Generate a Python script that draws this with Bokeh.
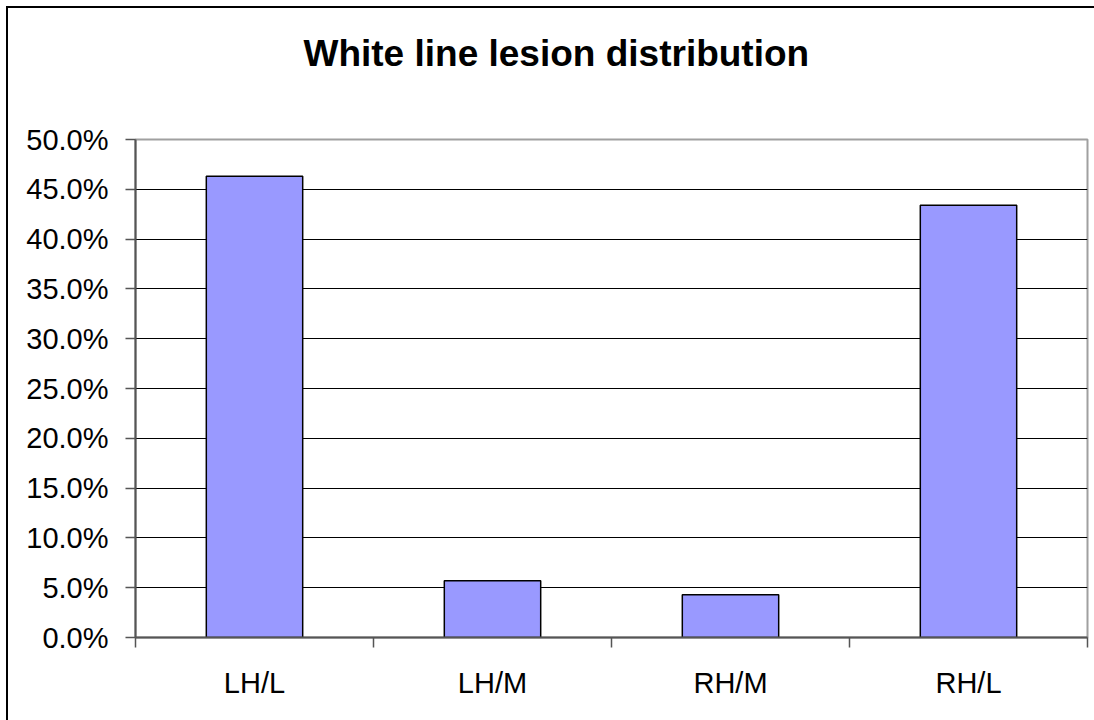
from bokeh.plotting import figure
from bokeh.models import (FixedTicker, NumeralTickFormatter, ColumnDataSource,
                          Title, InlineStyleSheet)
from bokeh.embed import file_html
from bokeh.resources import INLINE

# Share of white line lesions by claw location
categories = ["LH/L", "LH/M", "RH/M", "RH/L"]
shares = [0.463, 0.057, 0.043, 0.434]
y_ticks = [0.0, 0.05, 0.10, 0.15, 0.20, 0.25, 0.30, 0.35, 0.40, 0.45, 0.50]

FONT = "Liberation Sans"

positions = [i + 0.5 for i in range(len(categories))]
source = ColumnDataSource(data=dict(x=positions, share=shares, label=categories))

p = figure(
    width=1094, height=720,
    x_range=(0, len(categories)), y_range=(0, 0.5),
    output_backend="svg", toolbar_location=None,
    min_border_left=135, min_border_right=7,
    min_border_top=139, min_border_bottom=83,
    background_fill_color="white", border_fill_color="white",
)

# chart frame edge along the top and left (the rest runs past the page)
p.stylesheets = [InlineStyleSheet(css="""
:host { position: relative; }
:host::after {
  content: "";
  position: absolute;
  left: 6px; top: 6px; right: 0px; bottom: 0px;
  border-left: 2px solid black;
  border-top: 2px solid black;
  pointer-events: none;
  z-index: 10;
}
""")]

# empty spacer keeps the heading clear of the plot area
p.add_layout(Title(text=" ", text_font_size="1px", standoff=58), "above")
p.add_layout(Title(
    text="White line lesion distribution",
    text_font=FONT, text_font_size="37px", text_font_style="bold",
    text_color="black", align="left", offset=168, standoff=10,
), "above")

p.outline_line_color = "#a0a0a0"
p.outline_line_width = 2

# horizontal gridlines (the top edge is the plot border)
p.xgrid.visible = False
p.ygrid.ticker = FixedTicker(ticks=y_ticks[1:-1])
p.ygrid.grid_line_color = "black"
p.ygrid.grid_line_width = 1

p.vbar(x="x", top="share", width=0.405, source=source,
       fill_color="#9999ff", line_color="black", line_width=1.5)

# y axis
ya = p.yaxis[0]
ya.ticker = FixedTicker(ticks=y_ticks)
ya.formatter = NumeralTickFormatter(format="0.0%")
ya.major_label_text_font = FONT
ya.major_label_text_font_size = "29px"
ya.major_label_text_color = "black"
ya.major_label_standoff = 17
ya.major_tick_in = 0
ya.major_tick_out = 10
ya.minor_tick_line_color = None
ya.axis_line_color = "#555555"
ya.axis_line_width = 2
ya.major_tick_line_color = "#555555"
ya.major_tick_line_width = 1.5

# x axis: labels at category centres, tick marks at category boundaries
xa = p.xaxis[0]
xa.ticker = FixedTicker(ticks=positions,
                        minor_ticks=list(range(len(categories) + 1)))
xa.major_label_overrides = {pos: lab for pos, lab in zip(positions, categories)}
xa.major_label_text_font = FONT
xa.major_label_text_font_size = "29px"
xa.major_label_text_color = "black"
xa.major_label_standoff = 19
xa.major_tick_in = 0
xa.major_tick_out = 10
xa.major_tick_line_color = None
xa.minor_tick_in = 0
xa.minor_tick_out = 10
xa.minor_tick_line_color = "#555555"
xa.minor_tick_line_width = 1.5
xa.axis_line_color = "#555555"
xa.axis_line_width = 2

open("out.html", "w").write(file_html(p, INLINE))
